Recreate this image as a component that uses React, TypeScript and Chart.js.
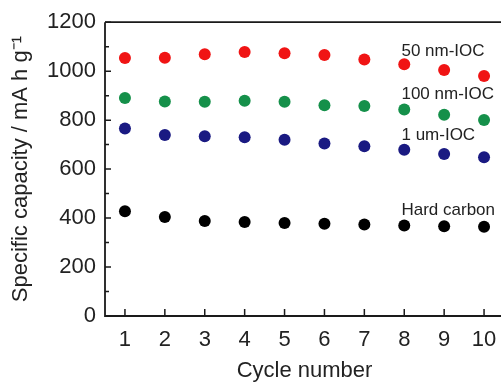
import { useEffect, useRef } from 'react';
import { Chart, registerables } from 'chart.js';

Chart.register(...registerables);

const cycles = [1, 2, 3, 4, 5, 6, 7, 8, 9, 10];
const ioc50 = [1054, 1055, 1069, 1078, 1073, 1066, 1048, 1028, 1005, 980];
const ioc100 = [890, 876, 875, 879, 875, 861, 858, 843, 822, 801];
const ioc1um = [766, 739, 734, 730, 720, 705, 693, 679, 662, 648];
const hardCarbon = [428, 404, 388, 384, 380, 377, 374, 370, 367, 365];

const seriesNames = ['50 nm-IOC', '100 nm-IOC', '1 um-IOC', 'Hard carbon'];
const seriesColors = ['#f01414', '#15904a', '#1a1a82', '#000000'];
const labelX = [7.93, 7.93, 7.93, 7.93];
const labelY = [1082, 907, 736, 431];

const yMajorTicks = [0, 200, 400, 600, 800, 1000, 1200];
const yMinorTicks = [100, 300, 500, 700, 900, 1100];

const FONT = "'Liberation Sans', Arial, Helvetica, sans-serif";

const framePlugin = {
  id: 'frame',
  afterDraw(chart: any) {
    const { ctx, chartArea, scales } = chart;
    const xs = scales.x;
    const ys = scales.y;
    ctx.save();
    ctx.strokeStyle = '#1a1a1a';
    ctx.lineWidth = 1.8;
    ctx.beginPath();
    ctx.moveTo(chartArea.left, chartArea.top);
    ctx.lineTo(chartArea.right, chartArea.top);
    ctx.moveTo(chartArea.left, chartArea.top);
    ctx.lineTo(chartArea.left, chartArea.bottom);
    ctx.lineTo(chartArea.right, chartArea.bottom);
    ctx.stroke();
    ctx.lineWidth = 1.5;
    ctx.beginPath();
    cycles.forEach((c) => {
      const px = xs.getPixelForValue(c);
      ctx.moveTo(px, chartArea.bottom);
      ctx.lineTo(px, chartArea.bottom - 7);
    });
    yMajorTicks.forEach((v) => {
      const py = ys.getPixelForValue(v);
      ctx.moveTo(chartArea.left, py);
      ctx.lineTo(chartArea.left + 6, py);
    });
    yMinorTicks.forEach((v) => {
      const py = ys.getPixelForValue(v);
      ctx.moveTo(chartArea.left, py);
      ctx.lineTo(chartArea.left + 4, py);
    });
    ctx.stroke();
    ctx.fillStyle = '#222';
    ctx.font = `17px ${FONT}`;
    ctx.textAlign = 'left';
    ctx.textBaseline = 'middle';
    seriesNames.forEach((name, i) => {
      ctx.fillText(name, xs.getPixelForValue(labelX[i]), ys.getPixelForValue(labelY[i]));
    });
    ctx.restore();
  },
};

export default function App() {
  const ref = useRef<HTMLCanvasElement>(null);
  useEffect(() => {
    if (!ref.current) return;
    const seriesData = [ioc50, ioc100, ioc1um, hardCarbon];
    const chart = new Chart(ref.current, {
      type: 'scatter',
      data: {
        datasets: seriesData.map((vals, i) => ({
          label: seriesNames[i],
          data: cycles.map((c, j) => ({ x: c, y: vals[j] })),
          backgroundColor: seriesColors[i],
          borderColor: seriesColors[i],
          pointRadius: 6,
          pointBorderWidth: 0,
        })),
      },
      options: {
        animation: false,
        responsive: false,
        maintainAspectRatio: false,
        layout: { padding: { top: 21, right: 5, left: 0, bottom: 0 } },
        plugins: { legend: { display: false }, tooltip: { enabled: false } },
        scales: {
          x: {
            type: 'linear',
            min: 0.5,
            max: 10.5,
            afterBuildTicks: (s: any) => {
              s.ticks = cycles.map((v) => ({ value: v }));
            },
            afterFit: (s: any) => {
              s.height = 69;
            },
            grid: { display: false, drawTicks: false },
            border: { display: false },
            ticks: {
              padding: 11,
              color: '#222',
              font: { family: FONT, size: 22 },
              maxRotation: 0,
              autoSkip: false,
              callback: (v: any) => String(v),
            },
            title: {
              display: true,
              text: 'Cycle number',
              color: '#222',
              font: { family: FONT, size: 22 },
              padding: { top: 0, bottom: 1 },
            },
          },
          y: {
            type: 'linear',
            min: 0,
            max: 1200,
            afterBuildTicks: (s: any) => {
              s.ticks = yMajorTicks.map((v) => ({ value: v }));
            },
            afterFit: (s: any) => {
              s.width = 105;
            },
            grid: { display: false, drawTicks: false },
            border: { display: false },
            ticks: {
              padding: 9,
              color: '#222',
              font: { family: FONT, size: 22 },
              callback: (v: any) => String(v),
            },
            title: {
              display: true,
              text: 'Specific capacity / mA h g\u207B\u00B9',
              color: '#222',
              font: { family: FONT, size: 22 },
              padding: { top: 8, bottom: 0 },
            },
          },
        },
      },
      plugins: [framePlugin],
    });
    return () => chart.destroy();
  }, []);
  return (
    <div
      style={{
        position: 'fixed',
        left: 0,
        top: 0,
        width: 501,
        height: 385,
        overflow: 'hidden',
        background: '#fff',
      }}
    >
      <canvas ref={ref} width={510} height={385} style={{ width: 510, height: 385, display: 'block' }} />
    </div>
  );
}
